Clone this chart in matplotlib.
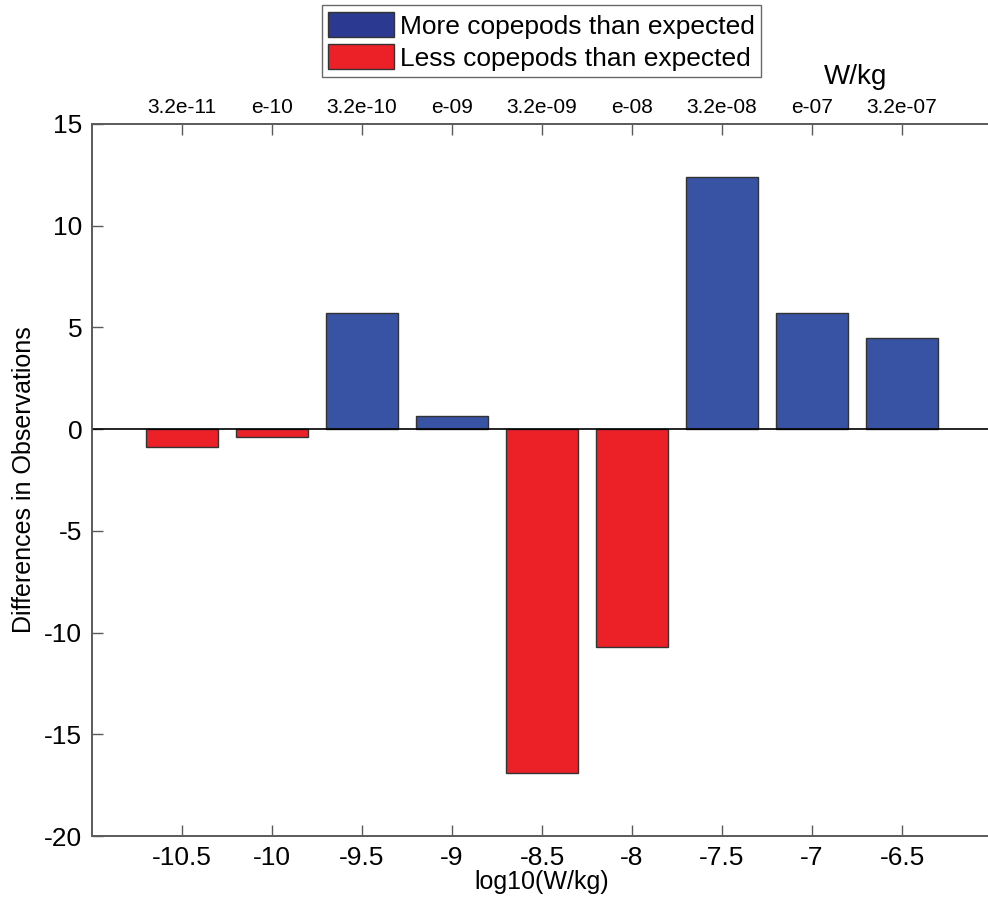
import matplotlib
matplotlib.use("Agg")
import matplotlib.pyplot as plt
from matplotlib.patches import Patch
import numpy as np

plt.rcParams['font.family'] = ['Liberation Sans', 'DejaVu Sans']
plt.rcParams['axes.unicode_minus'] = False

# data
log_power = [-10.5, -10.0, -9.5, -9.0, -8.5, -8.0, -7.5, -7.0, -6.5]
differences = [-0.9, -0.4, 5.7, 0.65, -16.9, -10.7, 12.4, 5.7, 4.5]
top_labels = ['3.2e-11', 'e-10', '3.2e-10', 'e-09', '3.2e-09',
              'e-08', '3.2e-08', 'e-07', '3.2e-07']
y_ticks = [15, 10, 5, 0, -5, -10, -15, -20]

BLUE = '#3953a4'
RED = '#ec2027'
LEG_BLUE = '#2b3990'
SPINE = '#5a5a5a'

fig = plt.figure(figsize=(9.88, 9.05), dpi=100)
ax = fig.add_axes([0.0931, 0.0762, 0.911, 0.7868])

colors = [BLUE if d > 0 else RED for d in differences]
ax.bar(log_power, differences, width=0.4, color=colors,
       edgecolor='#333333', linewidth=1.0, zorder=2)
ax.axhline(0, color='black', linewidth=1.2, zorder=3)

ax.set_xlim(-11.0, -6.0)
ax.set_ylim(-20, 15)
ax.set_xticks(log_power)
ax.set_xticklabels(['%g' % v for v in log_power])
ax.set_yticks(y_ticks)
ax.tick_params(direction='in', length=8, width=1, color=SPINE,
               labelsize=19, pad=7)
for s in ax.spines.values():
    s.set_color(SPINE)
    s.set_linewidth(1.2)
ax.set_xlabel('log10(W/kg)', fontsize=18, labelpad=0)
ax.set_ylabel('Differences in Observations', fontsize=18, labelpad=6)

top = ax.twiny()
top.set_xlim(ax.get_xlim())
top.set_xticks(log_power)
top.set_xticklabels(top_labels)
top.tick_params(direction='in', length=8, width=1, color=SPINE,
                labelsize=15, pad=5)
for s in top.spines.values():
    s.set_color(SPINE)
    s.set_linewidth(1.2)

fig.text(0.866, 0.915, 'W/kg', fontsize=20, ha='center', va='center')

handles = [Patch(facecolor=LEG_BLUE, edgecolor='#333333', label='More copepods than expected'),
           Patch(facecolor=RED, edgecolor='#333333', label='Less copepods than expected')]
leg = fig.legend(handles=handles, loc='upper center', bbox_to_anchor=(0.548, 0.994),
                 fontsize=19, frameon=True, fancybox=False, handlelength=2.5,
                 handleheight=1.1, handletextpad=0.2, borderpad=0.25,
                 labelspacing=0.2, borderaxespad=0)
leg.get_frame().set_edgecolor('#444444')
leg.get_frame().set_linewidth(1.0)

fig.savefig('out.png', dpi=100)
